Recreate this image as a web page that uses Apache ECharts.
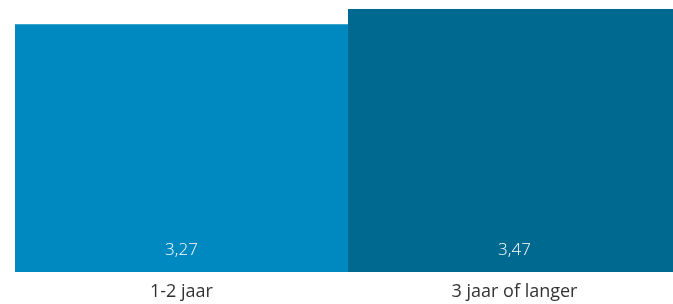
<!DOCTYPE html>
<html><head><meta charset="utf-8">
<script src="https://cdn.jsdelivr.net/npm/echarts@6/dist/echarts.min.js"></script>
<style>html,body{margin:0;padding:0;background:#fff;overflow:hidden}#c{width:690px;height:304px}</style>
</head><body><div id="c"></div>
<script>
const categories = ['1-2 jaar', '3 jaar of langer'];
const values = [3.27, 3.47];
const colors = ['#0088C1', '#00698F'];

const chart = echarts.init(document.getElementById('c'), null, {renderer: 'canvas'});
chart.setOption({
  animation: false,
  grid: {left: 15, right: 9, top: 9, bottom: 32, containLabel: false, outerBoundsMode: 'none'},
  xAxis: {
    type: 'category', data: categories,
    axisLine: {show: false}, axisTick: {show: false},
    axisLabel: {color: '#333', fontSize: 18, fontFamily: 'Open Sans', margin: 11}
  },
  yAxis: {type: 'value', min: 0, max: 3.47, show: false, splitLine: {show: false}},
  series: [{
    type: 'bar', barWidth: '100%',
    data: values.map((v, i) => ({value: v, itemStyle: {color: colors[i]}})),
    label: {
      show: true, position: 'insideBottom', distance: 13,
      color: '#fff', fontSize: 17, fontFamily: 'Open Sans', fontWeight: 300,
      formatter: p => String(p.value).replace('.', ',')
    }
  }]
});
</script></body></html>
